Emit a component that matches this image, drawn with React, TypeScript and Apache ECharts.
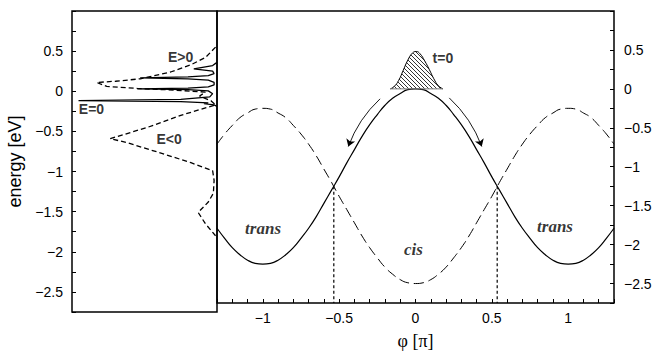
import React, { useEffect, useRef } from "react";
import * as echarts from "echarts";

// Torsion angle φ in units of π, sampled across the right panel
const phi = [
  -1.3, -1.25, -1.2, -1.15, -1.1, -1.05, -1.0, -0.95, -0.9, -0.85, -0.8, -0.75, -0.7, -0.65,
  -0.6, -0.55, -0.5, -0.45, -0.4, -0.35, -0.3, -0.25, -0.2, -0.15, -0.1, -0.05, 0,
  0.05, 0.1, 0.15, 0.2, 0.25, 0.3, 0.35, 0.4, 0.45, 0.5, 0.55, 0.6, 0.65,
  0.7, 0.75, 0.8, 0.85, 0.9, 0.95, 1.0, 1.05, 1.1, 1.15, 1.2, 1.25, 1.3,
];
// Lower (solid) potential curve, eV
const lowerCurve = [
  -1.79, -1.92, -2.04, -2.13, -2.2, -2.24, -2.25, -2.24, -2.2, -2.13, -2.04, -1.92, -1.79, -1.64,
  -1.47, -1.3, -1.13, -0.95, -0.78, -0.61, -0.46, -0.33, -0.21, -0.12, -0.06, -0.01, 0,
  -0.01, -0.06, -0.12, -0.21, -0.33, -0.46, -0.61, -0.78, -0.95, -1.13, -1.3, -1.47, -1.64,
  -1.79, -1.92, -2.04, -2.13, -2.2, -2.24, -2.25, -2.24, -2.2, -2.13, -2.04, -1.92, -1.79,
];
// Upper (dashed) potential curve, eV
const upperCurve = [
  -0.71, -0.58, -0.47, -0.37, -0.31, -0.26, -0.25, -0.26, -0.31, -0.37, -0.47, -0.58, -0.71, -0.86,
  -1.03, -1.2, -1.38, -1.55, -1.72, -1.89, -2.04, -2.17, -2.29, -2.38, -2.45, -2.49, -2.5,
  -2.49, -2.45, -2.38, -2.29, -2.17, -2.04, -1.89, -1.72, -1.55, -1.38, -1.2, -1.03, -0.86,
  -0.71, -0.58, -0.47, -0.37, -0.31, -0.26, -0.25, -0.26, -0.31, -0.37, -0.47, -0.58, -0.71,
];

// Curve crossings (φ, energy)
const crossPhi = [-0.535, 0.535];
const crossEnergy = -1.25;
const floorEnergy = -2.75;

// Initial wave packet at t=0
const packetPhi = [-0.165, -0.14, -0.11, -0.08, -0.05, -0.02, 0.005, 0.03, 0.06, 0.09, 0.12, 0.15, 0.18];
const packetAmp = [0, 0.03, 0.11, 0.24, 0.37, 0.46, 0.48, 0.45, 0.36, 0.25, 0.13, 0.04, 0];

// Left panel spectra: relative intensity (grows to the left) vs energy
const specSolidI = [
  0.0, 0.03, 0.16, 0.03, 0.02, 0.06, 0.2, 0.53, 0.2, 0.06, 0.02, 0.02, 0.06, 0.2, 0.55, 0.2,
  0.06, 0.03, 0.05, 0.25, 0.955, 0.25, 0.06, 0.09, 0.02, 0.0,
];
const specSolidE = [
  0.36, 0.32, 0.28, 0.25, 0.22, 0.195, 0.18, 0.167, 0.155, 0.14, 0.11, 0.08, 0.055, 0.04, 0.03, 0.02,
  0.005, -0.03, -0.07, -0.1, -0.116, -0.13, -0.145, -0.155, -0.17, -0.19,
];
const specDashI = [
  0.01, 0.08, 0.18, 0.32, 0.53, 0.7, 0.83, 0.76, 0.55, 0.3, 0.08, 0.12, 0.04, 0.01, 0.25, 0.48,
  0.736, 0.62, 0.37, 0.18, 0.03, 0.02, 0.025, 0.06, 0.13, 0.08, 0.01,
];
const specDashE = [
  0.55, 0.42, 0.33, 0.24, 0.155, 0.125, 0.11, 0.06, 0.035, 0.015, -0.01, -0.06, -0.12, -0.17, -0.3, -0.45,
  -0.59, -0.64, -0.78, -0.89, -0.99, -1.11, -1.27, -1.38, -1.51, -1.65, -1.8,
];

// Arrows showing the packet sliding down (start, end, bend)
const arrowStart = [[-0.232, -0.128], [0.221, -0.116]];
const arrowEnd = [[-0.44, -0.74], [0.434, -0.74]];
const arrowBend = [-0.12, 0.12];

// Text annotations
const panelLabels = ["trans", "cis", "trans"];
const panelLabelPhi = [-0.995, -0.01, 0.917];
const panelLabelE = [-1.795, -2.07, -1.77];
const specLabels = ["E>0", "E=0", "E<0"];
const specLabelI = [0.248, 0.862, 0.327];
const specLabelE = [0.42, -0.23, -0.605];

const MINUS = "\u2212";
const fmt = (v: number) => {
  const r = Math.round(v * 100) / 100;
  if (r === 0) return "0";
  return r < 0 ? MINUS + String(-r) : String(r);
};
const isHalf = (v: number) => Math.abs(v * 2 - Math.round(v * 2)) < 1e-6;

function makeHatch() {
  const c = document.createElement("canvas");
  c.width = 4;
  c.height = 4;
  const g = c.getContext("2d")!;
  g.strokeStyle = "#000";
  g.lineWidth = 0.8;
  g.beginPath();
  g.moveTo(-1, -1);
  g.lineTo(5, 5);
  g.moveTo(-1, 3);
  g.lineTo(1, 5);
  g.moveTo(3, -1);
  g.lineTo(5, 1);
  g.stroke();
  return c;
}

const SANS = "'Liberation Sans', Arial, sans-serif";
const SERIF = "'Liberation Serif', 'Times New Roman', serif";

export default function App() {
  const ref = useRef<HTMLDivElement>(null);

  useEffect(() => {
    document.body.style.margin = "0";
    if (!ref.current) return;
    const chart = echarts.init(ref.current, null, { renderer: "svg" });

    const tick = { show: true, inside: true, length: 4, lineStyle: { color: "#000", width: 1 } };
    const yCommon = {
      type: "value" as const,
      min: -2.75,
      max: 1,
      interval: 0.25,
      splitLine: { show: false },
      axisLine: { show: false, onZero: false },
      axisTick: tick,
      axisLabel: {
        color: "#000",
        fontFamily: SANS,
        fontSize: 14,
        formatter: (v: number) => (isHalf(v) && v < 0.75 ? fmt(v) : ""),
      },
    };

    const option: any = {
      animation: false,
      backgroundColor: "#fff",
      grid: [
        { left: 72, top: 11, width: 145, height: 301, show: true, borderColor: "#000", borderWidth: 1.5 },
        { left: 217, top: 11, width: 397, height: 301, show: true, borderColor: "#000", borderWidth: 1.5 },
      ],
      xAxis: [
        {
          gridIndex: 0,
          type: "value",
          min: 0,
          max: 1,
          inverse: true,
          axisLine: { show: false, onZero: false },
          axisTick: { show: false },
          axisLabel: { show: false },
          splitLine: { show: false },
        },
        {
          gridIndex: 1,
          type: "value",
          min: -1.3,
          max: 1.3,
          interval: 0.1,
          axisLine: { show: false, onZero: false },
          splitLine: { show: false },
          axisTick: tick,
          axisLabel: {
            color: "#000",
            fontFamily: SANS,
            fontSize: 14,
            margin: 8,
            formatter: (v: number) => (isHalf(v) ? fmt(v) : ""),
          },
          name: "φ [π]",
          nameLocation: "middle",
          nameGap: 29,
          nameTextStyle: { color: "#000", fontFamily: SERIF, fontSize: 18 },
        },
      ],
      yAxis: [
        {
          ...yCommon,
          gridIndex: 0,
          position: "left",
          axisLabel: { ...yCommon.axisLabel, margin: 9 },
          name: "energy [eV]",
          nameLocation: "middle",
          nameGap: 48,
          nameRotate: 90,
          nameTextStyle: { color: "#000", fontFamily: SANS, fontSize: 18 },
        },
        {
          ...yCommon,
          gridIndex: 1,
          position: "right",
          axisLabel: { ...yCommon.axisLabel, margin: 10 },
        },
      ],
      series: [
        {
          type: "line",
          xAxisIndex: 0,
          yAxisIndex: 0,
          data: specDashI.map((v, i) => [v, specDashE[i]]),
          showSymbol: false,
          lineStyle: { color: "#000", width: 1.3, type: [5, 3] },
        },
        {
          type: "line",
          xAxisIndex: 0,
          yAxisIndex: 0,
          data: specSolidI.map((v, i) => [v, specSolidE[i]]),
          showSymbol: false,
          lineStyle: { color: "#000", width: 1.3 },
        },
        {
          type: "line",
          xAxisIndex: 1,
          yAxisIndex: 1,
          data: phi.map((p, i) => [p, upperCurve[i]]),
          smooth: true,
          showSymbol: false,
          lineStyle: { color: "#000", width: 1, type: [10, 5] },
        },
        {
          type: "line",
          xAxisIndex: 1,
          yAxisIndex: 1,
          data: phi.map((p, i) => [p, lowerCurve[i]]),
          smooth: true,
          showSymbol: false,
          lineStyle: { color: "#000", width: 1.2 },
        },
        ...crossPhi.map((p) => ({
          type: "line",
          xAxisIndex: 1,
          yAxisIndex: 1,
          data: [
            [p, crossEnergy],
            [p, floorEnergy],
          ],
          showSymbol: false,
          lineStyle: { color: "#000", width: 1.2, type: [3, 2.5] },
        })),
        {
          type: "line",
          xAxisIndex: 1,
          yAxisIndex: 1,
          data: packetPhi.map((p, i) => [p, packetAmp[i]]),
          smooth: true,
          showSymbol: false,
          lineStyle: { color: "#000", width: 1 },
          areaStyle: {
            color: { image: makeHatch(), repeat: "repeat", imageWidth: 4, imageHeight: 4 },
            opacity: 1,
          },
          z: 3,
        },
        {
          type: "line",
          xAxisIndex: 1,
          yAxisIndex: 1,
          data: [
            [packetPhi[0], packetAmp[0]],
            [packetPhi[packetPhi.length - 1], packetAmp[packetAmp.length - 1]],
          ],
          showSymbol: false,
          lineStyle: { color: "#777", width: 1 },
          z: 3,
        },
        {
          type: "lines",
          coordinateSystem: "cartesian2d",
          xAxisIndex: 1,
          yAxisIndex: 1,
          symbol: ["none", "arrow"],
          symbolSize: 7,
          lineStyle: { color: "#000", width: 0.9, opacity: 1 },
          itemStyle: { color: "#000", opacity: 1 },
          data: arrowStart.map((s, i) => ({
            coords: [s, arrowEnd[i]],
            lineStyle: { curveness: arrowBend[i], color: "#000", width: 0.9, opacity: 1 },
          })),
        },
        {
          type: "scatter",
          xAxisIndex: 1,
          yAxisIndex: 1,
          symbolSize: 1,
          itemStyle: { color: "rgba(0,0,0,0)" },
          data: panelLabels.map((t, i) => ({ value: [panelLabelPhi[i], panelLabelE[i]], name: t })),
          label: {
            show: true,
            position: [0, 0],
            align: "center",
            verticalAlign: "middle",
            formatter: (p: any) => p.name,
            color: "#000",
            fontFamily: SERIF,
            fontStyle: "italic",
            fontWeight: "bold",
            fontSize: 17,
          },
        },
        {
          type: "scatter",
          xAxisIndex: 1,
          yAxisIndex: 1,
          symbolSize: 1,
          itemStyle: { color: "rgba(0,0,0,0)" },
          data: [{ value: [0.115, 0.39], name: "t=0" }],
          label: {
            show: true,
            position: [0, 0],
            align: "left",
            verticalAlign: "middle",
            formatter: (p: any) => p.name,
            color: "#000",
            fontFamily: SANS,
            fontWeight: "bold",
            fontSize: 14,
          },
        },
        {
          type: "scatter",
          xAxisIndex: 0,
          yAxisIndex: 0,
          symbolSize: 1,
          itemStyle: { color: "rgba(0,0,0,0)" },
          data: specLabels.map((t, i) => ({ value: [specLabelI[i], specLabelE[i]], name: t })),
          label: {
            show: true,
            position: [0, 0],
            align: "center",
            verticalAlign: "middle",
            formatter: (p: any) => p.name,
            color: "#000",
            fontFamily: SANS,
            fontWeight: "bold",
            fontSize: 14,
          },
        },
      ],
    };

    chart.setOption(option);
    return () => chart.dispose();
  }, []);

  return <div ref={ref} style={{ width: 655, height: 355 }} />;
}
